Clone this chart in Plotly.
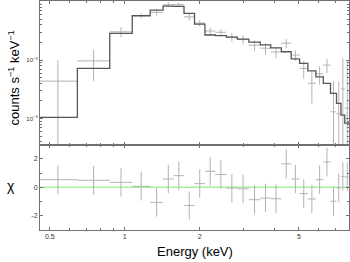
import plotly.graph_objects as go
import numpy as np

# Bin edges (keV)
energy_edges = [0.45, 0.645, 0.870, 1.071, 1.264, 1.424, 1.569, 1.728, 1.904, 2.097,
                2.310, 2.556, 2.829, 3.146, 3.497, 3.851, 4.250, 4.652, 5.030, 5.430,
                5.846, 6.264, 6.693, 7.073, 7.373, 7.635, 8.0]

# Folded model (counts s^-1 keV^-1)
model_counts = [1.04e-4, 7.2e-4, 2.87e-3, 5.75e-3, 7.21e-3, 8.43e-3, 8.3e-3, 6.32e-3,
                4.14e-3, 2.69e-3, 2.63e-3, 2.48e-3, 2.29e-3, 2.04e-3, 1.83e-3, 1.62e-3,
                1.39e-3, 1.05e-3, 8.77e-4, 6.55e-4, 5.17e-4, 3.98e-4, 2.68e-4, 1.81e-4,
                1.14e-4, 8.3e-5]

# Data
data_counts = [4.36e-4, 9.7e-4, 3.05e-3, 5.8e-3, 6.6e-3, 8.9e-3, 8.9e-3, 5.5e-3,
               4.3e-3, 3.15e-3, 3.0e-3, 2.47e-3, 2.25e-3, 1.8e-3, 1.6e-3, 1.38e-3,
               1.95e-3, 1.22e-3, 7.2e-4, 4.0e-4, 5.8e-4, 8.2e-4, 1.3e-4, 1.2e-4,
               3.2e-4, 1.5e-4]
data_err = [5.6e-4, 5.3e-4, 6.0e-4, 5.7e-4, 8.0e-4, 8.0e-4, 8.0e-4, 7.0e-4,
            5.0e-4, 4.5e-4, 4.0e-4, 4.0e-4, 4.0e-4, 3.8e-4, 3.5e-4, 3.0e-4,
            3.5e-4, 2.5e-4, 2.4e-4, 2.2e-4, 2.0e-4, 2.2e-4, 3.0e-4, 3.1e-4,
            7.5e-4, 8.0e-4]

# Residuals (chi)
chi_vals = [0.54, 0.50, 0.35, 0.07, -1.06, 0.59, 0.82, -1.28, 0.26, 1.13, 0.90, -0.05,
            -0.11, -0.87, -0.75, -0.80, 1.65, 0.59, -0.44, -0.82, 0.54, 1.79, -0.98,
            -0.04, 0.77, 0.73]
chi_err = [1.0] * 26

x_tickvals = [0.5, 1, 2, 5]
x_ticktext = ["0.5", "1", "2", "5"]
x_minor = [0.6, 0.7, 0.8, 0.9, 3, 4, 6, 7]
y_tickvals = [1e-4, 1e-3]
y_ticktext = ["10<sup>−4</sup>", "10<sup>−3</sup>"]
y_minor = [4e-5, 5e-5, 6e-5, 7e-5, 8e-5, 9e-5, 2e-4, 3e-4, 4e-4, 5e-4, 6e-4, 7e-4,
           8e-4, 9e-4, 2e-3, 3e-3, 4e-3, 5e-3, 6e-3, 7e-3, 8e-3, 9e-3, 1e-2]
chi_tickvals = [-2, 0, 2]
chi_ticktext = ["-2", "0", "2"]
chi_minor = [-3, -1, 1, 3]

edges = np.array(energy_edges)
centers = np.sqrt(edges[:-1] * edges[1:])
xp = edges[1:] - centers
xm = centers - edges[:-1]

FONT = "Liberation Sans, Arial, sans-serif"
DATA_COL = "#b2b2b2"
MODEL_COL = "#555555"
AX_COL = "#707070"

fig = go.Figure()

fig.add_trace(go.Scatter(
    x=centers, y=data_counts, mode="markers", marker=dict(size=1, color="rgba(0,0,0,0)"),
    error_x=dict(type="data", symmetric=False, array=xp, arrayminus=xm,
                 color=DATA_COL, thickness=1, width=0),
    error_y=dict(type="data", array=data_err, color=DATA_COL, thickness=1, width=0),
    xaxis="x", yaxis="y", showlegend=False, hoverinfo="skip"))

fig.add_trace(go.Scatter(
    x=edges, y=list(model_counts) + [model_counts[-1]], mode="lines",
    line=dict(shape="hv", color=MODEL_COL, width=1.3),
    xaxis="x", yaxis="y", showlegend=False, hoverinfo="skip"))

fig.add_trace(go.Scatter(
    x=centers, y=chi_vals, mode="markers", marker=dict(size=1, color="rgba(0,0,0,0)"),
    error_x=dict(type="data", symmetric=False, array=xp, arrayminus=xm,
                 color=DATA_COL, thickness=1, width=0),
    error_y=dict(type="data", array=chi_err, color=DATA_COL, thickness=1, width=0),
    xaxis="x2", yaxis="y2", showlegend=False, hoverinfo="skip"))

xr = [np.log10(0.4566), np.log10(7.94)]
split = 0.3725

common_x = dict(type="log", range=xr, showline=True, linecolor=AX_COL, linewidth=1,
                mirror="ticks", ticks="inside", ticklen=3, tickcolor=AX_COL,
                tickvals=x_tickvals, ticktext=x_ticktext, showgrid=False, zeroline=False,
                automargin=False,
                minor=dict(tickvals=x_minor, ticks="inside", ticklen=2, tickcolor=AX_COL,
                           showgrid=False))

fig.update_layout(
    width=350, height=262,
    margin=dict(l=40, r=1, t=1, b=32, autoexpand=False),
    paper_bgcolor="white", plot_bgcolor="white",
    font=dict(family=FONT, color="#333333", size=7),
    xaxis=dict(common_x, domain=[0, 1], anchor="y", showticklabels=False),
    yaxis=dict(type="log", domain=[split, 1], anchor="x",
               range=[np.log10(3.55e-5), np.log10(1.03e-2)],
               showline=True, linecolor=AX_COL, linewidth=1, mirror="ticks",
               ticks="inside", ticklen=3, tickcolor=AX_COL, automargin=False,
               tickvals=y_tickvals, ticktext=y_ticktext, tickfont=dict(size=6),
               showgrid=False, zeroline=False,
               minor=dict(tickvals=y_minor, ticks="inside", ticklen=2,
                          tickcolor=AX_COL, showgrid=False)),
    xaxis2=dict(common_x, domain=[0, 1], anchor="y2", tickfont=dict(size=7)),
    yaxis2=dict(domain=[0, split], anchor="x2", range=[-3, 3],
                showline=True, linecolor=AX_COL, linewidth=1, mirror="ticks",
                ticks="inside", ticklen=3, tickcolor=AX_COL, automargin=False,
                tickvals=chi_tickvals, ticktext=chi_ticktext, tickfont=dict(size=7),
                showgrid=False, zeroline=False,
                minor=dict(tickvals=chi_minor, ticks="inside", ticklen=2,
                           tickcolor=AX_COL, showgrid=False)),
    shapes=[dict(type="line", xref="x2 domain", yref="y2", x0=0, x1=1, y0=0, y1=0,
                 line=dict(color="#a6ee9e", width=1.5), layer="below")],
    annotations=[
        dict(text="counts s<sup>−1</sup> keV<sup>−1</sup>", xref="paper", yref="paper",
             x=-0.085, y=0.665, textangle=-90, showarrow=False, xanchor="center",
             yanchor="middle", font=dict(size=13, color="black", family=FONT)),
        dict(text="χ", xref="paper", yref="paper", x=-0.095, y=0.19, showarrow=False,
             xanchor="center", yanchor="middle",
             font=dict(size=14, color="black", family=FONT)),
        dict(text="Energy (keV)", xref="paper", yref="paper", x=0.503, y=-0.092,
             showarrow=False, xanchor="center", yanchor="middle",
             font=dict(size=13, color="black", family=FONT)),
    ],
)

fig.write_html("out.html", config={"displayModeBar": False, "staticPlot": True},
               post_script="document.body.style.margin='0';document.body.style.padding='0';")
